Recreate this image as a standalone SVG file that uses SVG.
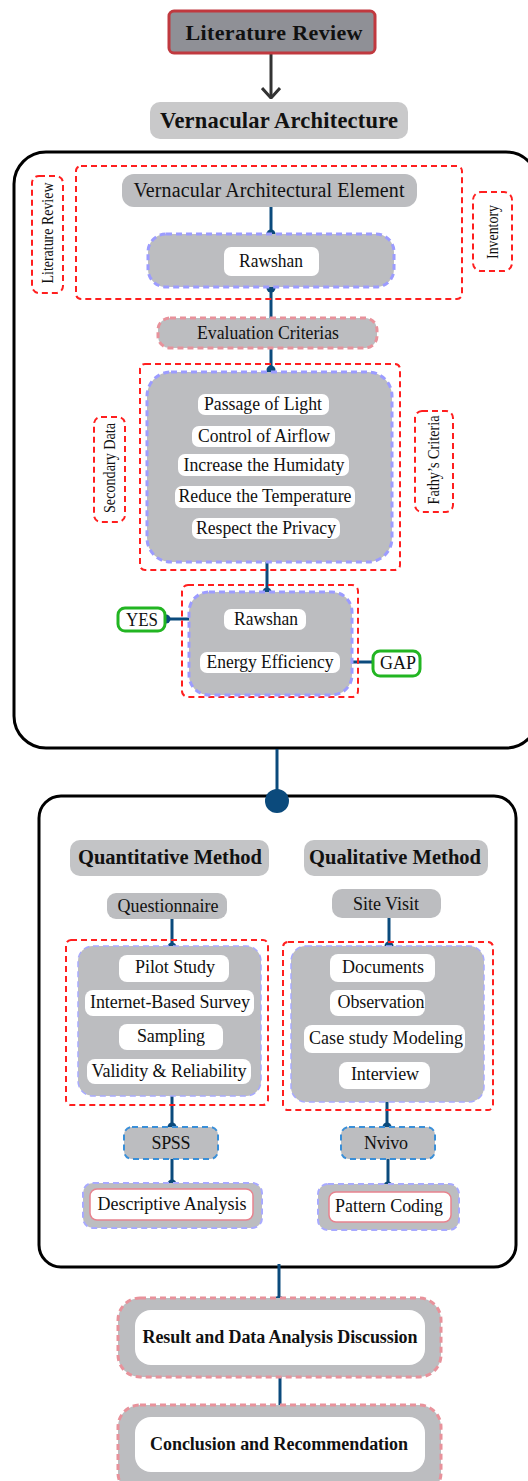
<svg xmlns="http://www.w3.org/2000/svg" width="528" height="1481" viewBox="0 0 528 1481">
<defs>
<style>
text{font-family:"Liberation Serif","Times New Roman",serif;fill:#111;text-anchor:middle}
.b{font-weight:bold}
.g{fill:#bcbdc0}
.w{fill:#fff}
.red{fill:none;stroke:#ff1f1f;stroke-width:2;stroke-dasharray:6 4}
.blu{stroke:#9c9cff;stroke-width:3;stroke-dasharray:6 4}
.pnk{stroke:#e8929b;stroke-width:3;stroke-dasharray:6 4}
.sky{stroke:#3a8fd8;stroke-width:2;stroke-dasharray:6 4}
.grn{fill:#fff;stroke:#22b522;stroke-width:3}
.frame{fill:none;stroke:#000;stroke-width:3}
.ln{stroke:#0b4a7c;stroke-width:3;fill:none}
.dot{fill:#0b4a7c}
.t15{font-size:17px}
.t17{font-size:18px}
.t18{font-size:18px}
</style>
<marker id="chev" viewBox="0 0 12 20" refX="11" refY="10" markerWidth="12" markerHeight="20" markerUnits="userSpaceOnUse" orient="auto">
<path d="M1,1 L11,10 L1,19" fill="none" stroke="#333" stroke-width="3"/>
</marker>
</defs>
<rect width="528" height="1481" fill="#fff"/>

<g id="frame1"><rect class="frame" x="14" y="152" width="524" height="596" rx="32"/></g>
<g id="frame2"><rect class="frame" x="39" y="796" width="477" height="471" rx="22"/></g>

<g id="connectors">
<line x1="271" y1="54" x2="271" y2="98" stroke="#333" stroke-width="3" marker-end="url(#chev)"/>
<line class="ln" x1="271" y1="207" x2="271" y2="233"/><circle class="dot" cx="271" cy="234" r="4.5"/>
<line class="ln" x1="271" y1="288" x2="271" y2="318"/><circle class="dot" cx="271" cy="288" r="4.5"/>
<line class="ln" x1="271" y1="348" x2="271" y2="370"/><circle class="dot" cx="271" cy="370" r="4.5"/>
<line class="ln" x1="267" y1="562" x2="267" y2="592"/><circle class="dot" cx="267" cy="592" r="4.5"/>
<line class="ln" x1="166" y1="619" x2="226" y2="619"/><circle class="dot" cx="166" cy="619" r="4.5"/>
<line class="ln" x1="338" y1="662" x2="376" y2="662"/><circle class="dot" cx="376" cy="662" r="4.5"/>
<line class="ln" x1="277" y1="749" x2="277" y2="800" stroke-width="5"/><circle class="dot" cx="277" cy="801" r="12"/>
<line class="ln" x1="172" y1="919" x2="172" y2="947"/><circle class="dot" cx="172" cy="947" r="4.5"/>
<line class="ln" x1="389" y1="918" x2="389" y2="946"/><circle class="dot" cx="389" cy="946" r="4.5"/>
<line class="ln" x1="172" y1="1096" x2="172" y2="1127"/><circle class="dot" cx="172" cy="1127" r="4.5"/>
<line class="ln" x1="172" y1="1159" x2="172" y2="1184"/><circle class="dot" cx="172" cy="1184" r="4.5"/>
<line class="ln" x1="387" y1="1102" x2="387" y2="1127"/><circle class="dot" cx="387" cy="1127" r="4.5"/>
<line class="ln" x1="388" y1="1159" x2="388" y2="1186"/><circle class="dot" cx="388" cy="1186" r="4.5"/>
<line class="ln" x1="279" y1="1264" x2="279" y2="1303" stroke-width="3.5"/><circle class="dot" cx="279" cy="1303" r="7"/>
<line class="ln" x1="280" y1="1377" x2="280" y2="1413" stroke-width="3.5"/><circle class="dot" cx="280" cy="1413" r="7"/>
</g>

<g id="literature-review">
<rect x="169" y="11" width="206" height="42" rx="5" fill="#8f9096" stroke="#c0393f" stroke-width="3"/>
<text class="b" x="274" y="40" font-size="22" textLength="177">Literature Review</text>
</g>
<g id="vernacular-architecture">
<rect x="150" y="102" width="258" height="37" rx="10" fill="#c9c9ca"/>
<text class="b" x="279" y="128" font-size="22.5" textLength="238">Vernacular Architecture</text>
</g>

<g id="lr-side"><rect class="red" x="32" y="176" width="31" height="117" rx="7"/>
<text class="t15" transform="translate(47,233) rotate(-90)" dominant-baseline="central" textLength="101" lengthAdjust="spacingAndGlyphs">Literature Review</text></g>
<g id="inventory"><rect class="red" x="473" y="192" width="39" height="79" rx="8"/>
<text class="t15" transform="translate(492,232) rotate(-90)" dominant-baseline="central" textLength="54" lengthAdjust="spacingAndGlyphs">Inventory</text></g>
<g id="inventory-group"><rect class="red" x="76" y="166" width="386" height="133" rx="5"/></g>

<g id="vae">
<rect class="g" x="122" y="174" width="295" height="33" rx="12"/>
<text x="269" y="197" font-size="20" textLength="271">Vernacular Architectural Element</text>
</g>
<g id="rawshan1">
<rect class="g blu" x="148" y="234" width="246" height="53" rx="18"/>
<rect class="w" x="224" y="247" width="95" height="29" rx="7"/>
<text class="t17" x="271" y="267" textLength="64" lengthAdjust="spacingAndGlyphs">Rawshan</text>
</g>

<g id="evaluation">
<rect class="g pnk" x="158" y="318" width="219" height="30" rx="12"/>
<text class="t17" x="268" y="339" textLength="142" lengthAdjust="spacingAndGlyphs">Evaluation Criterias</text>
</g>

<g id="secondary-data"><rect class="red" x="94" y="417" width="31" height="105" rx="7"/>
<text class="t15" transform="translate(109,468) rotate(-90)" dominant-baseline="central" textLength="90" lengthAdjust="spacingAndGlyphs">Secondary Data</text></g>
<g id="fathy"><rect class="red" x="415" y="411" width="38" height="101" rx="7"/>
<text class="t15" transform="translate(433,460) rotate(-90)" dominant-baseline="central" textLength="89" lengthAdjust="spacingAndGlyphs">Fathy’s Criteria</text></g>

<g id="criteria">
<rect class="red" x="140" y="364" width="260" height="206" rx="5"/>
<rect class="g blu" x="147" y="372" width="245" height="190" rx="24"/>
<rect class="w" x="198" y="394" width="131" height="21" rx="7"/><text class="t17" x="263" y="410" textLength="118" lengthAdjust="spacingAndGlyphs">Passage of Light</text>
<rect class="w" x="192" y="426" width="143" height="21" rx="7"/><text class="t17" x="264" y="442" textLength="132" lengthAdjust="spacingAndGlyphs">Control of Airflow</text>
<rect class="w" x="178" y="454" width="171" height="22" rx="7"/><text class="t17" x="264" y="471" textLength="161" lengthAdjust="spacingAndGlyphs">Increase the Humidaty</text>
<rect class="w" x="175" y="486" width="180" height="22" rx="7"/><text class="t17" x="265" y="502" textLength="173" lengthAdjust="spacingAndGlyphs">Reduce the Temperature</text>
<rect class="w" x="192" y="518" width="148" height="21" rx="7"/><text class="t17" x="266" y="534" textLength="140" lengthAdjust="spacingAndGlyphs">Respect the Privacy</text>
</g>

<g id="rawshan2">
<rect class="red" x="182" y="585" width="176" height="112" rx="6"/>
<rect class="g blu" x="189" y="592" width="163" height="103" rx="20"/>
<rect class="w" x="224" y="609" width="82" height="21" rx="7"/><text class="t17" x="266" y="625" textLength="64" lengthAdjust="spacingAndGlyphs">Rawshan</text>
<rect class="w" x="200" y="652" width="140" height="21" rx="7"/><text class="t17" x="270" y="668" textLength="127" lengthAdjust="spacingAndGlyphs">Energy Efficiency</text>
</g>
<g id="yes"><rect class="grn" x="118" y="608" width="47" height="23" rx="7"/><text class="t17" x="142" y="626" textLength="32" lengthAdjust="spacingAndGlyphs">YES</text></g>
<g id="gap"><rect class="grn" x="373" y="651" width="47" height="25" rx="7"/><text class="t17" x="398" y="669" textLength="36" lengthAdjust="spacingAndGlyphs">GAP</text></g>

<g id="quantitative">
<rect fill="#c3c4c6" x="70" y="840" width="199" height="36" rx="10"/>
<text class="b" x="170" y="864" font-size="20.5" textLength="184">Quantitative Method</text>
</g>
<g id="questionnaire">
<rect class="g" x="107" y="893" width="120" height="26" rx="9"/>
<text class="t18" x="168" y="912" textLength="101">Questionnaire</text>
</g>
<g id="quant-items">
<rect class="red" x="66" y="940" width="202" height="165" rx="5"/>
<rect class="g" x="78" y="946" width="183" height="150" rx="15" stroke="#a8aaff" stroke-width="1.5" stroke-dasharray="6 4"/>
<rect class="w" x="119" y="955" width="110" height="27" rx="8"/><text class="t18" x="175" y="973" textLength="80">Pilot Study</text>
<rect class="w" x="85" y="990" width="169" height="26" rx="8"/><text class="t18" x="170" y="1008" textLength="160">Internet-Based Survey</text>
<rect class="w" x="119" y="1024" width="104" height="26" rx="8"/><text class="t18" x="171" y="1042" textLength="68">Sampling</text>
<rect class="w" x="87" y="1059" width="164" height="25" rx="8"/><text class="t18" x="169" y="1077" textLength="155">Validity &amp; Reliability</text>
</g>
<g id="spss">
<rect class="g sky" x="124" y="1127" width="94" height="32" rx="8"/>
<text class="t18" x="171" y="1149" textLength="39">SPSS</text>
</g>
<g id="descriptive">
<rect class="g" x="83" y="1183" width="179" height="45" rx="10" stroke="#a8aaff" stroke-width="2" stroke-dasharray="6 4"/>
<rect class="w" x="90" y="1189" width="163" height="31" rx="7" stroke="#e8838e" stroke-width="1.5"/>
<text class="t18" x="172" y="1210" textLength="149">Descriptive Analysis</text>
</g>

<g id="qualitative">
<rect fill="#c3c4c6" x="304" y="840" width="184" height="36" rx="10"/>
<text class="b" x="395" y="864" font-size="20.5" textLength="172">Qualitative Method</text>
</g>
<g id="site-visit">
<rect class="g" x="332" y="889" width="109" height="29" rx="10"/>
<text class="t18" x="386" y="910" textLength="66">Site Visit</text>
</g>
<g id="qual-items">
<rect class="red" x="283" y="942" width="210" height="168" rx="5"/>
<rect class="g" x="291" y="946" width="193" height="156" rx="15" stroke="#a8aaff" stroke-width="1.5" stroke-dasharray="6 4"/>
<rect class="w" x="330" y="954" width="105" height="28" rx="8"/><text class="t18" x="383" y="973" textLength="82">Documents</text>
<rect class="w" x="330" y="990" width="95" height="26" rx="8"/><text class="t18" x="381" y="1008" textLength="87">Observation</text>
<rect class="w" x="304" y="1025" width="161" height="28" rx="8"/><text class="t18" x="386" y="1044" textLength="154">Case study Modeling</text>
<rect class="w" x="339" y="1062" width="91" height="27" rx="8"/><text class="t18" x="385" y="1080" textLength="68">Interview</text>
</g>
<g id="nvivo">
<rect class="g sky" x="341" y="1127" width="94" height="32" rx="8"/>
<text class="t18" x="386" y="1149" textLength="44">Nvivo</text>
</g>
<g id="pattern-coding">
<rect class="g" x="318" y="1184" width="141" height="46" rx="10" stroke="#a8aaff" stroke-width="2" stroke-dasharray="6 4"/>
<rect class="w" x="329" y="1192" width="122" height="30" rx="7" stroke="#e8838e" stroke-width="1.5"/>
<text class="t18" x="389" y="1212" textLength="108">Pattern Coding</text>
</g>

<g id="result">
<rect class="g pnk" x="118" y="1298" width="323" height="79" rx="22"/>
<rect class="w" x="135" y="1310" width="290" height="55" rx="16"/>
<text class="b t18" x="280" y="1343" textLength="275">Result and Data Analysis Discussion</text>
</g>
<g id="conclusion">
<rect class="g pnk" x="118" y="1405" width="323" height="90" rx="22"/>
<rect class="w" x="135" y="1417" width="290" height="55" rx="16"/>
<text class="b t18" x="279" y="1450" textLength="258">Conclusion and Recommendation</text>
</g>
</svg>
